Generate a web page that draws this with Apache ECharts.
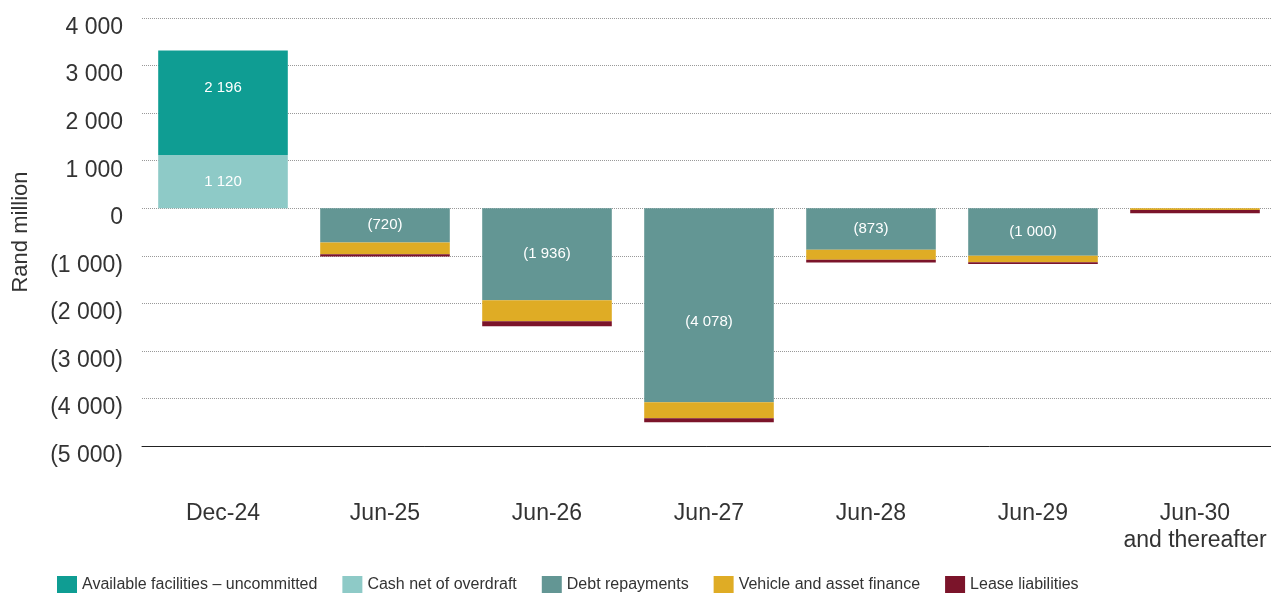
<!DOCTYPE html>
<html>
<head>
<meta charset="utf-8">
<script src="https://cdn.jsdelivr.net/npm/echarts@6/dist/echarts.min.js"></script>
<style>
  html, body { margin: 0; padding: 0; background: #fff; }
  #chart { width: 1271px; height: 593px; }
</style>
</head>
<body>
<div id="chart"></div>
<script>
var categories = ['Dec-24', 'Jun-25', 'Jun-26', 'Jun-27', 'Jun-28', 'Jun-29', 'Jun-30\nand thereafter']
var cashNetOfOverdraft = [1120, 0, 0, 0, 0, 0, 0]
var availableFacilities = [2196, 0, 0, 0, 0, 0, 0]
var debtRepayments = [0, -720, -1936, -4078, -873, -1000, 0]
var vehicleAssetFinance = [0, -250, -440, -340, -210, -135, -40]
var leaseLiabilities = [0, -45, -105, -85, -60, -40, -65]

var FONT = 'Liberation Sans'
var TEXT = '#333'

function fmt(v) {
  var s = Math.abs(v).toString().replace(/\B(?=(\d{3})+(?!\d))/g, ' ')
  return v < 0 ? '(' + s + ')' : s
}

var barLabel = {
  show: true,
  position: 'inside',
  color: '#fff',
  fontFamily: FONT,
  fontSize: 15,
  formatter: function (p) { return p.value ? fmt(p.value) : '' }
}

// a few labels sit off-centre in the original
function withOffsets(data, offsets) {
  return data.map(function (v, i) {
    return offsets && offsets[i] ? { value: v, label: { offset: offsets[i] } } : v
  })
}

function bar(name, data, color, label, offsets) {
  return {
    name: name,
    type: 'bar',
    stack: 'total',
    barWidth: '80%',
    data: withOffsets(data, offsets),
    itemStyle: { color: color },
    label: label ? barLabel : { show: false },
    animation: false
  }
}

var chart = echarts.init(document.getElementById('chart'))
chart.setOption({
  textStyle: { fontFamily: FONT },
  grid: { left: 142, top: 18, width: 1134, bottom: 147, containLabel: false, outerBoundsMode: 'none' },
  legend: {
    left: 52,
    top: 571,
    itemWidth: 20,
    itemHeight: 17,
    itemGap: 25,
    icon: 'rect',
    textStyle: { fontFamily: FONT, fontSize: 16, color: TEXT },
    data: ['Available facilities – uncommitted', 'Cash net of overdraft', 'Debt repayments', 'Vehicle and asset finance', 'Lease liabilities']
  },
  xAxis: {
    type: 'category',
    data: categories,
    axisLine: { onZero: false, lineStyle: { color: '#222', width: 1 } },
    axisTick: { show: false },
    axisLabel: { interval: 0, margin: 54, fontSize: 23, color: TEXT, lineHeight: 27, fontFamily: FONT }
  },
  yAxis: {
    type: 'value',
    min: -5000,
    max: 4000,
    interval: 1000,
    name: 'Rand million',
    nameLocation: 'middle',
    nameGap: 110,
    nameTextStyle: { fontSize: 22, color: TEXT, fontFamily: FONT },
    axisLine: { show: false },
    axisTick: { show: false },
    axisLabel: {
      margin: 19,
      color: TEXT,
      formatter: function (v) { return '{t|' + fmt(v) + '}' },
      rich: {
        t: { fontSize: 23, color: TEXT, fontFamily: FONT, padding: [19, 0, 0, 0] }
      }
    },
    splitLine: { lineStyle: { type: 'dotted', color: '#999', width: 1 } }
  },
  series: [
    bar('Cash net of overdraft', cashNetOfOverdraft, '#8ecac7', true),
    bar('Available facilities – uncommitted', availableFacilities, '#0f9d93', true, [[0, -15]]),
    bar('Debt repayments', debtRepayments, '#639694', true, [null, null, null, [0, 17]]),
    bar('Vehicle and asset finance', vehicleAssetFinance, '#dfac25', false),
    bar('Lease liabilities', leaseLiabilities, '#7b142a', false)
  ]
})
</script>
</body>
</html>
